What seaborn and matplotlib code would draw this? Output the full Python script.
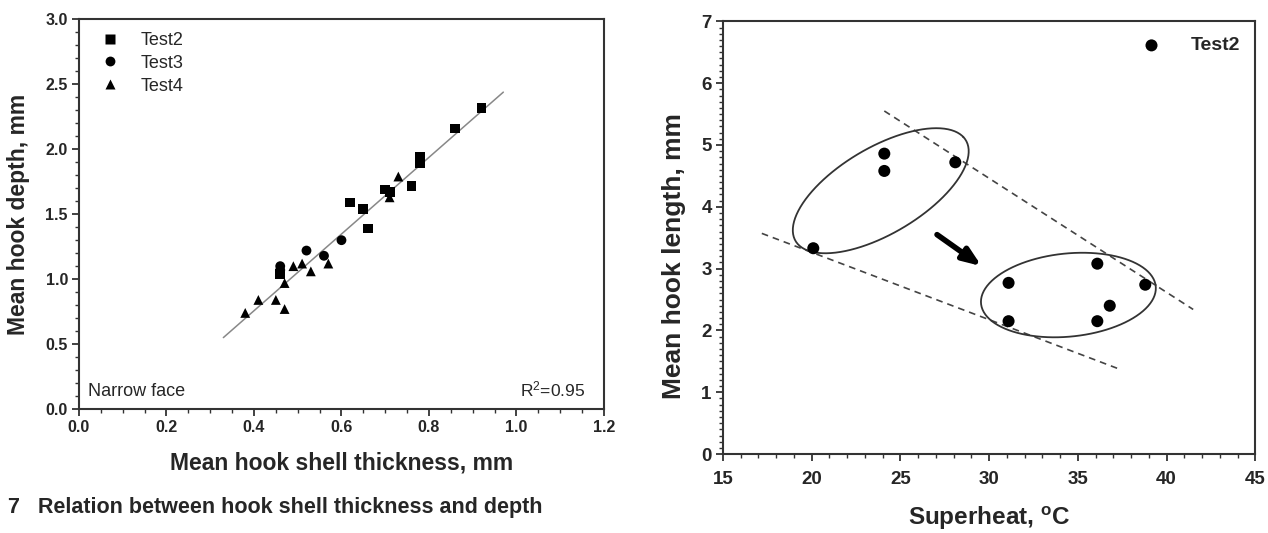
import numpy as np
import pandas as pd
import seaborn as sns
import matplotlib.pyplot as plt
from matplotlib.ticker import MultipleLocator, FormatStrFormatter

# Left panel: hook shell thickness vs hook depth
test2_x = [0.92, 0.86, 0.78, 0.78, 0.76, 0.70, 0.71, 0.62, 0.65, 0.66, 0.46]
test2_y = [2.32, 2.16, 1.94, 1.89, 1.72, 1.69, 1.67, 1.59, 1.54, 1.39, 1.04]
test3_x = [0.60, 0.52, 0.56, 0.46, 0.46]
test3_y = [1.30, 1.22, 1.18, 1.10, 1.07]
test4_x = [0.73, 0.71, 0.49, 0.51, 0.57, 0.53, 0.47, 0.41, 0.45, 0.47, 0.38]
test4_y = [1.79, 1.63, 1.10, 1.12, 1.12, 1.06, 0.97, 0.84, 0.84, 0.77, 0.74]
fit_x = [0.33, 0.97]
fit_y = [0.55, 2.44]

# Right panel: superheat vs hook length
superheat = [20.1, 24.1, 24.1, 28.1, 31.1, 31.1, 36.1, 36.1, 36.8, 38.8]
hook_length = [3.33, 4.86, 4.58, 4.72, 2.77, 2.15, 3.08, 2.15, 2.40, 2.74]
upper_dash_x = [24.1, 41.5]
upper_dash_y = [5.55, 2.34]
lower_dash_x = [17.2, 37.25]
lower_dash_y = [3.57, 1.385]
# ellipses: centre, first half-axis, second half-axis (data units)
ell1 = [(23.9, 4.26), (4.65, 0.87), (1.71, -0.516)]
ell2 = [(34.47, 2.573), (4.91, 0.163), (0.396, -0.664)]
arrow_start = (27.07, 3.55)
arrow_end = (29.58, 3.04)

sns.set_theme(style='ticks')
plt.rcParams['font.family'] = ['Liberation Sans', 'DejaVu Sans']
plt.rcParams['mathtext.fontset'] = 'custom'
plt.rcParams['mathtext.rm'] = 'Liberation Sans'
plt.rcParams['mathtext.bf'] = 'Liberation Sans:bold'
plt.rcParams['mathtext.default'] = 'regular'

fig = plt.figure(figsize=(12.68, 5.33), dpi=100)
ax1 = fig.add_axes([0.0623, 0.2326, 0.414, 0.731])
ax2 = fig.add_axes([0.570, 0.148, 0.420, 0.812])

df = pd.DataFrame({
    'x': test2_x + test3_x + test4_x,
    'y': test2_y + test3_y + test4_y,
    'test': ['Test2'] * len(test2_x) + ['Test3'] * len(test3_x) + ['Test4'] * len(test4_x),
})
ax1.plot(fit_x, fit_y, color='#888888', lw=1.1, zorder=1)
sns.scatterplot(data=df, x='x', y='y', style='test',
                markers={'Test2': 's', 'Test3': 'o', 'Test4': '^'},
                color='black', s=50, edgecolor='none', ax=ax1, zorder=3)
ax1.set_xlim(0, 1.2)
ax1.set_ylim(0, 3.0)
ax1.xaxis.set_major_locator(MultipleLocator(0.2))
ax1.xaxis.set_minor_locator(MultipleLocator(0.05))
ax1.yaxis.set_major_locator(MultipleLocator(0.5))
ax1.yaxis.set_minor_locator(MultipleLocator(0.1))
ax1.xaxis.set_major_formatter(FormatStrFormatter('%.1f'))
ax1.yaxis.set_major_formatter(FormatStrFormatter('%.1f'))
ax1.set_xlabel('Mean hook shell thickness, mm', fontsize=16.5, fontweight='bold')
ax1.set_ylabel('Mean hook depth, mm', fontsize=16.5, fontweight='bold')
ax1.xaxis.set_label_coords(0.5, -0.138)
ax1.xaxis.label.set_va('center')
ax1.yaxis.set_label_coords(-0.115, 0.5)
ax1.yaxis.label.set_va('center')
leg = ax1.legend(loc='upper left', frameon=False, fontsize=13, handletextpad=0.7,
                 borderaxespad=0.3, labelspacing=0.32, markerscale=1.0)
ax1.text(0.018, 0.045, 'Narrow face', transform=ax1.transAxes, fontsize=13, ha='left', va='center')
ax1.text(0.965, 0.05, 'R$^2$=0.95', transform=ax1.transAxes, fontsize=12.5, ha='right', va='center')

sns.scatterplot(x=superheat, y=hook_length, color='black', s=75, edgecolor='none',
                ax=ax2, label='Test2', zorder=3)
ax2.plot(upper_dash_x, upper_dash_y, color='#444444', lw=1.2, ls=(0, (4, 3)))
ax2.plot(lower_dash_x, lower_dash_y, color='#444444', lw=1.2, ls=(0, (4, 3)))
t = np.linspace(0, 2 * np.pi, 200)
for (c, u, v) in [ell1, ell2]:
    ax2.plot(c[0] + u[0] * np.cos(t) + v[0] * np.sin(t),
             c[1] + u[1] * np.cos(t) + v[1] * np.sin(t), color='#333333', lw=1.3)
ax2.annotate('', xy=arrow_end, xytext=arrow_start,
             arrowprops=dict(arrowstyle='-|>,head_length=0.9,head_width=0.35', lw=4,
                             color='black', shrinkA=0, shrinkB=0))
ax2.set_xlim(15, 45)
ax2.set_ylim(0, 7)
ax2.xaxis.set_major_locator(MultipleLocator(5))
ax2.xaxis.set_minor_locator(MultipleLocator(1))
ax2.yaxis.set_major_locator(MultipleLocator(1))
ax2.yaxis.set_minor_locator(MultipleLocator(0.1))
ax2.set_xlabel('Superheat, $^{\\mathbf{o}}$C', fontsize=17.5, fontweight='bold')
ax2.set_ylabel('Mean hook length, mm', fontsize=19, fontweight='bold')
ax2.xaxis.set_label_coords(0.5, -0.149)
ax2.xaxis.label.set_va('center')
ax2.yaxis.set_label_coords(-0.092, 0.457)
ax2.yaxis.label.set_va('center')
leg2 = ax2.legend(loc='upper right', frameon=False, handletextpad=1.0, borderaxespad=0.4,
                  prop={'size': 14, 'weight': 'bold'})

for ax, fs in [(ax1, 11.5), (ax2, 13.5)]:
    for side in ['top', 'right', 'left', 'bottom']:
        ax.spines[side].set_visible(True)
        ax.spines[side].set_linewidth(1.5)
        ax.spines[side].set_color('#333333')
    ax.tick_params(which='major', direction='out', length=5, width=1.3, color='#333333',
                   labelsize=fs, pad=3)
    ax.tick_params(which='minor', direction='out', length=3, width=1.0, color='#333333')
    for lab in ax.get_xticklabels() + ax.get_yticklabels():
        lab.set_fontweight('bold')
ax2.tick_params(axis='x', which='major', pad=7)

fig.text(0.006, 0.048, '7   Relation between hook shell thickness and depth',
         fontsize=15.5, fontweight='bold', ha='left', va='center')

plt.savefig('out.png', dpi=100)
